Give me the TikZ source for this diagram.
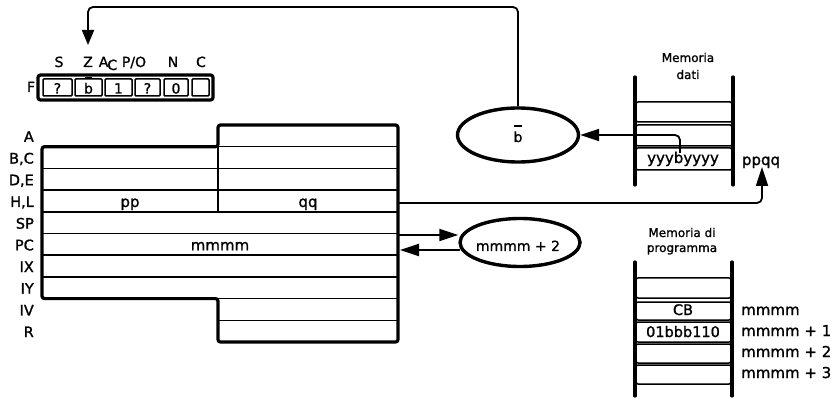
\documentclass[tikz,border=0pt]{standalone}
\usepackage{fontspec}
\setmainfont[FakeBold=1.2,AutoFakeBold=1.2]{DejaVu Sans}
\usetikzlibrary{arrows.meta,shapes.geometric}
\newcommand\bbar{\ooalign{b\cr\hidewidth\rule[1.08em]{0.52em}{0.1em}\hidewidth\cr}}
\begin{document}
\begin{tikzpicture}[x=1pt,y=-1pt,
  outline/.style={line width=3.2pt, rounded corners=2.5pt},
  cell/.style={line width=1.5pt},
  pcell/.style={line width=1.5pt, rounded corners=2pt},
  lbl/.style={font=\bfseries\fontsize{14.5}{15}\selectfont, anchor=base east, inner sep=0pt},
  val/.style={font=\bfseries\fontsize{15}{16}\selectfont, anchor=base, inner sep=0pt},
  fval/.style={font=\bfseries\fontsize{14}{15}\selectfont, anchor=base, inner sep=0pt},
  small/.style={font=\fontsize{12}{13}\selectfont, anchor=base, inner sep=0pt},
  conn/.style={line width=1.8pt, rounded corners=5pt},
  tipA/.style={-{Triangle[length=19pt,width=12pt]}},
  tipB/.style={-{Triangle[length=15pt,width=12pt]}},
  oval/.style={ellipse, draw, line width=3.4pt, inner sep=0pt},
  rail/.style={line width=3.2pt, line cap=round},
]
\useasboundingbox (0,0) rectangle (834,411);

% ---------- flags ----------
\node[fval, anchor=base] (flagF) at (31,92) {F};
\draw[outline] (38,75) rectangle (213,100);
\foreach \a/\b/\t [count=\i] in {43/72/?, 75/102/\bbar, 105/132/1, 135/160/?, 164/188/0, 192/209/{}} {
  \draw[cell, rounded corners=1pt] (\a,79) rectangle (\b,96);
  \node[fval] (f\i) at ({(\a+\b)/2},93.5) {\t};
}
\node[fval] (lS) at (59,67) {S};
\node[fval] (lZ) at (88,67) {Z};
\node[fval] (lA) at (108,67) {A\kern-1pt\raisebox{-3pt}{C}};
\node[fval] (lP) at (134,67) {P/O};
\node[fval] (lN) at (173,67) {N};
\node[fval] (lC) at (201,67) {C};

% ---------- registers ----------
\foreach \k in {1,...,8} \draw[cell] (42,{125+21.7*\k}) -- (398,{125+21.7*\k});
\draw[cell] (218,{125+21.7*9}) -- (398,{125+21.7*9});
\draw[cell] (218,146.7) -- (218,211.8);
\draw[outline] (218,125) -- (398,125) -- (398,342) -- (218,342) -- (218,298.6)
  -- (42,298.6) -- (42,146.7) -- (218,146.7) -- cycle;
\foreach \t [count=\i from 0] in {A,{B,C},{D,E},{H,L},SP,PC,IX,IY,IV,R} {
  \node[lbl] (reg\i) at (34,{141.85+21.7*\i}) {\t};
}
\node[val] (pp) at (130,206.95) {pp};
\node[val] (qq) at (308,206.95) {qq};
\node[val] (mm) at (220,250.35) {mmmm};

% ---------- ellipses ----------
\node[oval, minimum width=121pt, minimum height=54pt] (ellb) at (518,135) {};
\node[val, font=\bfseries\fontsize{14}{15}\selectfont] (ellbtxt) at (518,142) {\bbar};
\node[oval, minimum width=120pt, minimum height=48pt] (ellm) at (520,242.5) {};
\node[val, font=\bfseries\fontsize{14}{15}\selectfont] (ellmtxt) at (518,251) {mmmm + 2};

% ---------- memoria dati ----------
\node[small] (md1) at (688,62) {Memoria};
\node[small] (md2) at (688,79) {dati};
\draw[rail] (635,77) -- (635,185);
\draw[rail] (733,77) -- (733,185);
\draw[pcell] (636,102) rectangle (732,122);
\draw[pcell] (636,125) rectangle (732,146);
\draw[pcell] (636,148) rectangle (732,170);
\node[val] (yb) at (683,163) {yyybyyyy};
\node[val] (ppqq) at (761,165) {ppqq};

% ---------- memoria di programma ----------
\node[small] (mp1) at (682,237) {Memoria di};
\node[small] (mp2) at (682,252) {programma};
\draw[rail] (635,262) -- (635,396);
\draw[rail] (732,262) -- (732,396);
\draw[pcell] (636,278) rectangle (731,298);
\draw[pcell] (636,302) rectangle (731,320);
\draw[pcell] (636,322) rectangle (731,342);
\draw[pcell] (636,344) rectangle (731,363);
\draw[pcell] (636,365) rectangle (731,384);
\node[val, font=\bfseries\fontsize{14.5}{15}\selectfont] (cb) at (683,315) {CB};
\node[val, font=\bfseries\fontsize{14.5}{15}\selectfont] (op) at (683,337) {01bbb110};
\node[val, anchor=base west] (a0) at (741,315) {mmmm};
\node[val, anchor=base west] (a1) at (741,336) {mmmm + 1};
\node[val, anchor=base west] (a2) at (741,357) {mmmm + 2};
\node[val, anchor=base west] (a3) at (741,378) {mmmm + 3};

% ---------- connectors ----------
\coordinate (topR) at (518,7);
\coordinate (topL) at (88,7);
\coordinate (zin) at (88,45);
\draw[conn, tipB] (ellb.north) -- (topR) -- (topL) -- (zin);

\coordinate (bsrc) at (680,153);
\draw[conn, tipA] (bsrc) |- (ellb.east);

\coordinate (hlR) at (399,203);
\coordinate (ppqqtip) at (762,167);
\draw[conn, tipA] (hlR) -| (ppqqtip);

\coordinate (pcA) at (399,235);
\coordinate (pcB) at (400,250);
\draw[conn, tipA] (pcA) -- (pcA -| ellm.west);
\draw[conn, tipA] ([xshift=2pt]pcB -| ellm.west) -- (pcB);
\end{tikzpicture}
\end{document}
